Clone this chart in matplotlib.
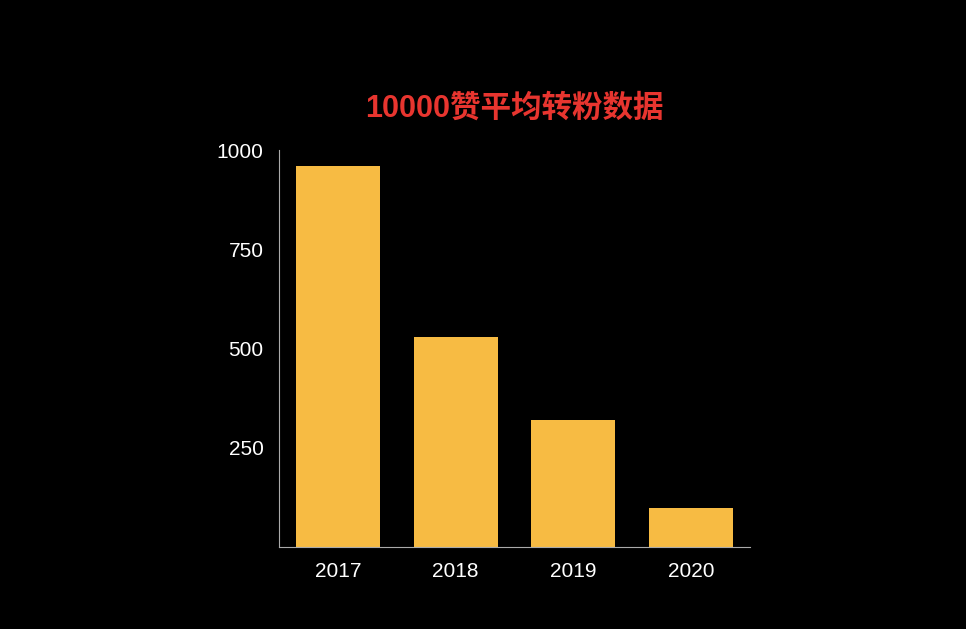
import matplotlib
matplotlib.use('Agg')
import matplotlib.pyplot as plt

years = ['2017', '2018', '2019', '2020']
fans = [960, 529, 320, 98]
yticks = [250, 500, 750, 1000]

plt.rcParams['font.family'] = ['Liberation Sans', 'Noto Sans CJK SC', 'DejaVu Sans']

fig = plt.figure(figsize=(9.66, 6.29), dpi=100, facecolor='black')
ax = fig.add_axes([0.2888, 0.1304, 0.4876, 0.6311], facecolor='black')

ax.bar(range(len(years)), fans, width=0.715, color='#F7BB43')
ax.set_xlim(-0.5, 3.5)
ax.set_ylim(0, 1000)
ax.set_xticks(range(len(years)))
ax.set_xticklabels(years)
ax.set_yticks(yticks)
ax.set_yticklabels([str(v) for v in yticks])
ax.tick_params(axis='both', length=0, colors='white', labelsize=15)
ax.tick_params(axis='y', pad=11)
ax.tick_params(axis='x', pad=11)

for s in ['top', 'right']:
    ax.spines[s].set_visible(False)
for s in ['left', 'bottom']:
    ax.spines[s].set_color('#aaaaaa')
    ax.spines[s].set_linewidth(0.8)

ax.set_title('10000赞平均转粉数据', color='#E8352F', fontsize=22, fontweight='bold',
             family=['Liberation Sans', 'Noto Sans CJK SC'], pad=24)

fig.savefig('out.png', dpi=100, facecolor='black')
